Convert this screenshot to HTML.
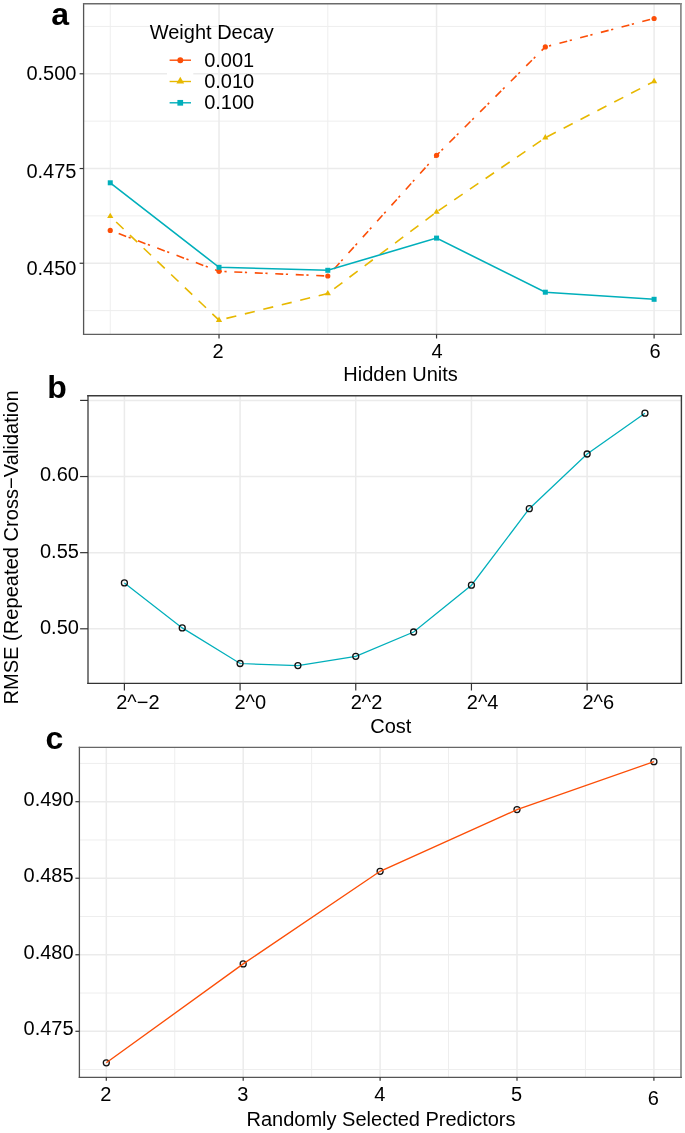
<!DOCTYPE html>
<html><head><meta charset="utf-8"><style>
html,body{margin:0;padding:0;background:#fff;}
body{width:685px;height:1133px;overflow:hidden;}
svg{display:block;will-change:transform;}
text{font-family:"Liberation Sans", sans-serif;fill:#000;}
</style></head><body>
<svg width="685" height="1133" viewBox="0 0 685 1133">
<rect width="685" height="1133" fill="#fff"/>
<line x1="83.6" y1="26.44" x2="681" y2="26.44" stroke="#EEEEEE" stroke-width="1.0"/>
<line x1="83.6" y1="121.16" x2="681" y2="121.16" stroke="#EEEEEE" stroke-width="1.0"/>
<line x1="83.6" y1="215.89" x2="681" y2="215.89" stroke="#EEEEEE" stroke-width="1.0"/>
<line x1="83.6" y1="310.61" x2="681" y2="310.61" stroke="#EEEEEE" stroke-width="1.0"/>
<line x1="110.25" y1="3.6" x2="110.25" y2="334.5" stroke="#EEEEEE" stroke-width="1.0"/>
<line x1="327.79" y1="3.6" x2="327.79" y2="334.5" stroke="#EEEEEE" stroke-width="1.0"/>
<line x1="545.33" y1="3.6" x2="545.33" y2="334.5" stroke="#EEEEEE" stroke-width="1.0"/>
<line x1="83.6" y1="73.8" x2="681" y2="73.8" stroke="#EBEBEB" stroke-width="1.5"/>
<line x1="83.6" y1="168.53" x2="681" y2="168.53" stroke="#EBEBEB" stroke-width="1.5"/>
<line x1="83.6" y1="263.25" x2="681" y2="263.25" stroke="#EBEBEB" stroke-width="1.5"/>
<line x1="219.02" y1="3.6" x2="219.02" y2="334.5" stroke="#EBEBEB" stroke-width="1.5"/>
<line x1="436.56" y1="3.6" x2="436.56" y2="334.5" stroke="#EBEBEB" stroke-width="1.5"/>
<line x1="654.1" y1="3.6" x2="654.1" y2="334.5" stroke="#EBEBEB" stroke-width="1.5"/>
<rect x="167" y="49" width="26.3" height="64" fill="#fff"/>
<line x1="110.25" y1="230.40" x2="219.02" y2="271.30" stroke="#FC4E07" stroke-width="1.6" stroke-dasharray="8.00 2.60 2.20 7.80" stroke-dashoffset="11.60"/>
<line x1="219.02" y1="271.30" x2="327.79" y2="276.00" stroke="#FC4E07" stroke-width="1.6" stroke-dasharray="8.00 2.60 2.20 7.70" stroke-dashoffset="5.20"/>
<line x1="327.79" y1="276.00" x2="436.56" y2="155.30" stroke="#FC4E07" stroke-width="1.6" stroke-dasharray="8.00 2.60 2.20 8.60" stroke-dashoffset="11.90"/>
<line x1="436.56" y1="155.30" x2="545.33" y2="46.90" stroke="#FC4E07" stroke-width="1.6" stroke-dasharray="8.00 2.60 2.20 8.90" stroke-dashoffset="3.60"/>
<line x1="545.33" y1="46.90" x2="654.10" y2="18.50" stroke="#FC4E07" stroke-width="1.6" stroke-dasharray="8.00 2.60 2.20 8.60" stroke-dashoffset="6.80"/>
<circle cx="110.25" cy="230.40" r="2.6" fill="#FC4E07"/>
<circle cx="219.02" cy="271.30" r="2.6" fill="#FC4E07"/>
<circle cx="327.79" cy="276.00" r="2.6" fill="#FC4E07"/>
<circle cx="436.56" cy="155.30" r="2.6" fill="#FC4E07"/>
<circle cx="545.33" cy="46.90" r="2.6" fill="#FC4E07"/>
<circle cx="654.10" cy="18.50" r="2.6" fill="#FC4E07"/>
<line x1="110.25" y1="216.30" x2="219.02" y2="320.20" stroke="#E7B800" stroke-width="1.6" stroke-dasharray="10.20 8.80" stroke-dashoffset="10.80"/>
<line x1="219.02" y1="320.20" x2="327.79" y2="293.50" stroke="#E7B800" stroke-width="1.6" stroke-dasharray="10.20 8.80" stroke-dashoffset="11.40"/>
<line x1="327.79" y1="293.50" x2="436.56" y2="212.00" stroke="#E7B800" stroke-width="1.6" stroke-dasharray="10.20 8.80" stroke-dashoffset="10.90"/>
<line x1="436.56" y1="212.00" x2="545.33" y2="137.70" stroke="#E7B800" stroke-width="1.6" stroke-dasharray="10.20 8.80" stroke-dashoffset="16.60"/>
<line x1="545.33" y1="137.70" x2="654.10" y2="81.40" stroke="#E7B800" stroke-width="1.6" stroke-dasharray="10.20 8.80" stroke-dashoffset="17.40"/>
<polygon points="110.25,212.70 113.37,218.10 107.13,218.10" fill="#E7B800"/>
<polygon points="219.02,316.60 222.14,322.00 215.90,322.00" fill="#E7B800"/>
<polygon points="327.79,289.90 330.91,295.30 324.67,295.30" fill="#E7B800"/>
<polygon points="436.56,208.40 439.68,213.80 433.44,213.80" fill="#E7B800"/>
<polygon points="545.33,134.10 548.45,139.50 542.21,139.50" fill="#E7B800"/>
<polygon points="654.10,77.80 657.22,83.20 650.98,83.20" fill="#E7B800"/>
<polyline points="110.25,182.80 219.02,267.30 327.79,270.30 436.56,238.10 545.33,292.20 654.10,299.30" fill="none" stroke="#00AFBB" stroke-width="1.6"/>
<rect x="107.75" y="180.30" width="5" height="5" fill="#00AFBB"/>
<rect x="216.52" y="264.80" width="5" height="5" fill="#00AFBB"/>
<rect x="325.29" y="267.80" width="5" height="5" fill="#00AFBB"/>
<rect x="434.06" y="235.60" width="5" height="5" fill="#00AFBB"/>
<rect x="542.83" y="289.70" width="5" height="5" fill="#00AFBB"/>
<rect x="651.60" y="296.80" width="5" height="5" fill="#00AFBB"/>
<line x1="83.6" y1="2.9" x2="83.6" y2="335.1" stroke="#555" stroke-width="1.3"/>
<line x1="82.95" y1="3.65" x2="681.75" y2="3.65" stroke="#6a6a6a" stroke-width="1.5"/>
<line x1="680.9" y1="2.9" x2="680.9" y2="335.1" stroke="#888" stroke-width="1.7"/>
<line x1="82.95" y1="334.4" x2="681.75" y2="334.4" stroke="#5f5f5f" stroke-width="1.4"/>
<line x1="79.6" y1="73.8" x2="83.6" y2="73.8" stroke="#333333" stroke-width="1.2"/>
<text x="76.5" y="80.15" font-size="20" text-anchor="end" font-weight="normal" >0.500</text>
<line x1="79.6" y1="168.53" x2="83.6" y2="168.53" stroke="#333333" stroke-width="1.2"/>
<text x="76.5" y="177.55" font-size="20" text-anchor="end" font-weight="normal" >0.475</text>
<line x1="79.6" y1="263.25" x2="83.6" y2="263.25" stroke="#333333" stroke-width="1.2"/>
<text x="76.5" y="275.2" font-size="20" text-anchor="end" font-weight="normal" >0.450</text>
<line x1="219.02" y1="334.5" x2="219.02" y2="338.5" stroke="#333333" stroke-width="1.2"/>
<text x="217.95" y="357.5" font-size="20" text-anchor="middle" font-weight="normal" >2</text>
<line x1="436.56" y1="334.5" x2="436.56" y2="338.5" stroke="#333333" stroke-width="1.2"/>
<text x="437.1" y="357.5" font-size="20" text-anchor="middle" font-weight="normal" >4</text>
<line x1="654.1" y1="334.5" x2="654.1" y2="338.5" stroke="#333333" stroke-width="1.2"/>
<text x="655.0" y="357.5" font-size="20" text-anchor="middle" font-weight="normal" >6</text>
<text x="343.3" y="381.3" font-size="20" text-anchor="start" font-weight="normal" >Hidden Units</text>
<text x="51.3" y="25.3" font-size="32" text-anchor="start" font-weight="bold" >a</text>
<text x="149.7" y="39.1" font-size="20" text-anchor="start" font-weight="normal" >Weight Decay</text>
<line x1="169.6" y1="60.2" x2="191" y2="60.2" stroke="#FC4E07" stroke-width="1.4"/>
<circle cx="180.3" cy="60.2" r="2.95" fill="#FC4E07"/>
<text x="204.2" y="66.5" font-size="20" text-anchor="start" font-weight="normal" >0.001</text>
<line x1="169.6" y1="81.5" x2="191" y2="81.5" stroke="#E7B800" stroke-width="1.4"/>
<polygon points="180.30,76.70 184.20,83.45 176.40,83.45" fill="#E7B800"/>
<text x="204.2" y="87.8" font-size="20" text-anchor="start" font-weight="normal" >0.010</text>
<line x1="169.6" y1="102.8" x2="191" y2="102.8" stroke="#00AFBB" stroke-width="1.4"/>
<rect x="177.4" y="99.95" width="5.7" height="5.7" fill="#00AFBB"/>
<text x="204.2" y="109.1" font-size="20" text-anchor="start" font-weight="normal" >0.100</text>
<line x1="88" y1="400.41" x2="681.2" y2="400.41" stroke="#EBEBEB" stroke-width="1.5"/>
<line x1="88" y1="476.54" x2="681.2" y2="476.54" stroke="#EBEBEB" stroke-width="1.5"/>
<line x1="88" y1="552.67" x2="681.2" y2="552.67" stroke="#EBEBEB" stroke-width="1.5"/>
<line x1="88" y1="628.8" x2="681.2" y2="628.8" stroke="#EBEBEB" stroke-width="1.5"/>
<line x1="124.4" y1="396" x2="124.4" y2="683.5" stroke="#EBEBEB" stroke-width="1.5"/>
<line x1="240.08" y1="396" x2="240.08" y2="683.5" stroke="#EBEBEB" stroke-width="1.5"/>
<line x1="355.76" y1="396" x2="355.76" y2="683.5" stroke="#EBEBEB" stroke-width="1.5"/>
<line x1="471.44" y1="396" x2="471.44" y2="683.5" stroke="#EBEBEB" stroke-width="1.5"/>
<line x1="587.12" y1="396" x2="587.12" y2="683.5" stroke="#EBEBEB" stroke-width="1.5"/>
<polyline points="124.40,582.90 182.24,627.90 240.08,663.50 297.92,665.60 355.76,656.30 413.60,632.00 471.44,585.20 529.28,508.70 587.12,454.00 644.96,413.20" fill="none" stroke="#00AFBB" stroke-width="1.25"/>
<circle cx="124.40" cy="582.90" r="3.0" fill="none" stroke="#111" stroke-width="1.3"/>
<circle cx="182.24" cy="627.90" r="3.0" fill="none" stroke="#111" stroke-width="1.3"/>
<circle cx="240.08" cy="663.50" r="3.0" fill="none" stroke="#111" stroke-width="1.3"/>
<circle cx="297.92" cy="665.60" r="3.0" fill="none" stroke="#111" stroke-width="1.3"/>
<circle cx="355.76" cy="656.30" r="3.0" fill="none" stroke="#111" stroke-width="1.3"/>
<circle cx="413.60" cy="632.00" r="3.0" fill="none" stroke="#111" stroke-width="1.3"/>
<circle cx="471.44" cy="585.20" r="3.0" fill="none" stroke="#111" stroke-width="1.3"/>
<circle cx="529.28" cy="508.70" r="3.0" fill="none" stroke="#111" stroke-width="1.3"/>
<circle cx="587.12" cy="454.00" r="3.0" fill="none" stroke="#111" stroke-width="1.3"/>
<circle cx="644.96" cy="413.20" r="3.0" fill="none" stroke="#111" stroke-width="1.3"/>
<line x1="88" y1="395" x2="88" y2="683.92" stroke="#555" stroke-width="1.5"/>
<line x1="87.25" y1="395.7" x2="682.1" y2="395.7" stroke="#3a3a3a" stroke-width="1.4"/>
<line x1="681.4" y1="395" x2="681.4" y2="683.92" stroke="#3a3a3a" stroke-width="1.4"/>
<line x1="87.25" y1="683.3" x2="682.1" y2="683.3" stroke="#333" stroke-width="1.25"/>
<line x1="80.1" y1="400.41" x2="88" y2="400.41" stroke="#333333" stroke-width="1.2"/>
<line x1="80.1" y1="476.54" x2="88" y2="476.54" stroke="#333333" stroke-width="1.2"/>
<line x1="80.1" y1="552.67" x2="88" y2="552.67" stroke="#333333" stroke-width="1.2"/>
<line x1="80.1" y1="628.8" x2="88" y2="628.8" stroke="#333333" stroke-width="1.2"/>
<text x="78.9" y="481.3" font-size="20" text-anchor="end" font-weight="normal" >0.60</text>
<text x="78.9" y="557.6" font-size="20" text-anchor="end" font-weight="normal" >0.55</text>
<text x="78.9" y="633.8" font-size="20" text-anchor="end" font-weight="normal" >0.50</text>
<line x1="124.4" y1="683.5" x2="124.4" y2="690.5" stroke="#333333" stroke-width="1.2"/>
<text x="116.2" y="709.0" font-size="20" text-anchor="start" font-weight="normal" >2^−2</text>
<line x1="240.08" y1="683.5" x2="240.08" y2="690.5" stroke="#333333" stroke-width="1.2"/>
<text x="234.5" y="709.0" font-size="20" text-anchor="start" font-weight="normal" >2^0</text>
<line x1="355.76" y1="683.5" x2="355.76" y2="690.5" stroke="#333333" stroke-width="1.2"/>
<text x="350.7" y="709.0" font-size="20" text-anchor="start" font-weight="normal" >2^2</text>
<line x1="471.44" y1="683.5" x2="471.44" y2="690.5" stroke="#333333" stroke-width="1.2"/>
<text x="466.8" y="709.0" font-size="20" text-anchor="start" font-weight="normal" >2^4</text>
<line x1="587.12" y1="683.5" x2="587.12" y2="690.5" stroke="#333333" stroke-width="1.2"/>
<text x="582.4" y="709.0" font-size="20" text-anchor="start" font-weight="normal" >2^6</text>
<text x="370.2" y="732.6" font-size="20" text-anchor="start" font-weight="normal" >Cost</text>
<text x="47.2" y="398.4" font-size="32" text-anchor="start" font-weight="bold" >b</text>
<text x="0" y="0" font-size="20.12" transform="translate(18.1,704.6) rotate(-90)">RMSE (Repeated Cross−Validation</text>
<line x1="79.4" y1="763.44" x2="681.1" y2="763.44" stroke="#EEEEEE" stroke-width="1.0"/>
<line x1="79.4" y1="839.97" x2="681.1" y2="839.97" stroke="#EEEEEE" stroke-width="1.0"/>
<line x1="79.4" y1="916.5" x2="681.1" y2="916.5" stroke="#EEEEEE" stroke-width="1.0"/>
<line x1="79.4" y1="993.03" x2="681.1" y2="993.03" stroke="#EEEEEE" stroke-width="1.0"/>
<line x1="79.4" y1="1069.56" x2="681.1" y2="1069.56" stroke="#EEEEEE" stroke-width="1.0"/>
<line x1="174.75" y1="747.2" x2="174.75" y2="1077.3" stroke="#EEEEEE" stroke-width="1.0"/>
<line x1="311.65" y1="747.2" x2="311.65" y2="1077.3" stroke="#EEEEEE" stroke-width="1.0"/>
<line x1="448.55" y1="747.2" x2="448.55" y2="1077.3" stroke="#EEEEEE" stroke-width="1.0"/>
<line x1="585.45" y1="747.2" x2="585.45" y2="1077.3" stroke="#EEEEEE" stroke-width="1.0"/>
<line x1="79.4" y1="801.7" x2="681.1" y2="801.7" stroke="#EBEBEB" stroke-width="1.5"/>
<line x1="79.4" y1="878.23" x2="681.1" y2="878.23" stroke="#EBEBEB" stroke-width="1.5"/>
<line x1="79.4" y1="954.76" x2="681.1" y2="954.76" stroke="#EBEBEB" stroke-width="1.5"/>
<line x1="79.4" y1="1031.29" x2="681.1" y2="1031.29" stroke="#EBEBEB" stroke-width="1.5"/>
<line x1="106.3" y1="747.2" x2="106.3" y2="1077.3" stroke="#EBEBEB" stroke-width="1.5"/>
<line x1="243.2" y1="747.2" x2="243.2" y2="1077.3" stroke="#EBEBEB" stroke-width="1.5"/>
<line x1="380.1" y1="747.2" x2="380.1" y2="1077.3" stroke="#EBEBEB" stroke-width="1.5"/>
<line x1="517" y1="747.2" x2="517" y2="1077.3" stroke="#EBEBEB" stroke-width="1.5"/>
<line x1="653.9" y1="747.2" x2="653.9" y2="1077.3" stroke="#EBEBEB" stroke-width="1.5"/>
<circle cx="106.30" cy="1062.80" r="3.0" fill="none" stroke="#111" stroke-width="1.3"/>
<circle cx="243.20" cy="963.90" r="3.0" fill="none" stroke="#111" stroke-width="1.3"/>
<circle cx="380.10" cy="871.30" r="3.0" fill="none" stroke="#111" stroke-width="1.3"/>
<circle cx="517.00" cy="809.60" r="3.0" fill="none" stroke="#111" stroke-width="1.3"/>
<circle cx="653.90" cy="761.70" r="3.0" fill="none" stroke="#111" stroke-width="1.3"/>
<polyline points="106.30,1062.80 243.20,963.90 380.10,871.30 517.00,809.60 653.90,761.70" fill="none" stroke="#FC4E07" stroke-width="1.35"/>
<line x1="79.4" y1="746.7" x2="79.4" y2="1078.05" stroke="#555" stroke-width="1.3"/>
<line x1="78.75" y1="747.4" x2="681.85" y2="747.4" stroke="#666" stroke-width="1.4"/>
<line x1="681" y1="746.7" x2="681" y2="1078.05" stroke="#8a8a8a" stroke-width="1.7"/>
<line x1="78.75" y1="1077.4" x2="681.85" y2="1077.4" stroke="#555" stroke-width="1.3"/>
<line x1="75.4" y1="801.7" x2="79.4" y2="801.7" stroke="#333333" stroke-width="1.2"/>
<text x="73.6" y="805.65" font-size="20" text-anchor="end" font-weight="normal" >0.490</text>
<line x1="75.4" y1="878.23" x2="79.4" y2="878.23" stroke="#333333" stroke-width="1.2"/>
<text x="73.6" y="882.18" font-size="20" text-anchor="end" font-weight="normal" >0.485</text>
<line x1="75.4" y1="954.76" x2="79.4" y2="954.76" stroke="#333333" stroke-width="1.2"/>
<text x="73.6" y="958.71" font-size="20" text-anchor="end" font-weight="normal" >0.480</text>
<line x1="75.4" y1="1031.29" x2="79.4" y2="1031.29" stroke="#333333" stroke-width="1.2"/>
<text x="73.6" y="1035.24" font-size="20" text-anchor="end" font-weight="normal" >0.475</text>
<line x1="106.3" y1="1077.3" x2="106.3" y2="1080.8" stroke="#333333" stroke-width="1.2"/>
<text x="105.90" y="1101.0" font-size="20" text-anchor="middle" font-weight="normal" >2</text>
<line x1="243.2" y1="1077.3" x2="243.2" y2="1080.8" stroke="#333333" stroke-width="1.2"/>
<text x="242.80" y="1101.0" font-size="20" text-anchor="middle" font-weight="normal" >3</text>
<line x1="380.1" y1="1077.3" x2="380.1" y2="1080.8" stroke="#333333" stroke-width="1.2"/>
<text x="379.70" y="1101.0" font-size="20" text-anchor="middle" font-weight="normal" >4</text>
<line x1="517" y1="1077.3" x2="517" y2="1080.8" stroke="#333333" stroke-width="1.2"/>
<text x="516.60" y="1101.0" font-size="20" text-anchor="middle" font-weight="normal" >5</text>
<line x1="653.9" y1="1077.3" x2="653.9" y2="1080.8" stroke="#333333" stroke-width="1.2"/>
<text x="653.30" y="1104.9" font-size="20" text-anchor="middle" font-weight="normal" >6</text>
<text x="246.5" y="1126.1" font-size="20" text-anchor="start" font-weight="normal" >Randomly Selected Predictors</text>
<text x="45.5" y="748.9" font-size="32" text-anchor="start" font-weight="bold" >c</text>
</svg>
</body></html>
